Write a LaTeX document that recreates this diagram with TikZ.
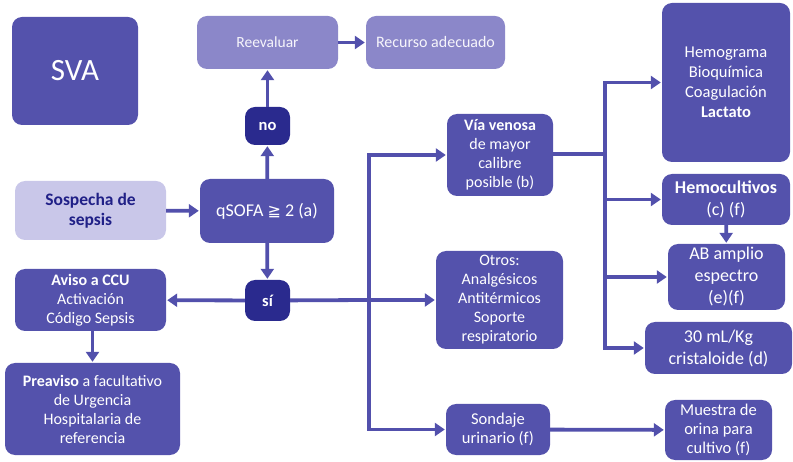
\documentclass[tikz,border=0pt]{standalone}
\usepackage{fontspec}
\setmainfont{Carlito}
\newfontfamily\symfont{DejaVu Sans}
\usetikzlibrary{arrows.meta}
\definecolor{boxmid}{RGB}{84,82,172}
\definecolor{boxdark}{RGB}{42,42,142}
\definecolor{boxlight}{RGB}{139,135,201}
\definecolor{boxpale}{RGB}{201,199,233}
\definecolor{navytext}{RGB}{32,32,135}
\definecolor{linkc}{RGB}{82,80,172}
\tikzset{
  box/.style={rounded corners=10pt, fill=boxmid, text=white, align=center,
    inner sep=0pt, font=\fontsize{16}{19}\selectfont},
  bigtext/.style={font=\fontsize{18}{22}\selectfont},
  darkbox/.style={box, fill=boxdark, font=\fontsize{16.5}{18}\selectfont\bfseries},
  lightbox/.style={box, fill=boxlight, text=white!92!boxlight},
  palebox/.style={box, fill=boxpale, text=navytext, font=\fontsize{17.5}{20}\selectfont\bfseries},
  conn/.style={line width=3.8pt, draw=linkc},
  link/.style={conn, shorten >=1pt, -{Triangle[length=10pt,width=13pt]}},
}
\begin{document}
\begin{tikzpicture}[x=1pt,y=-1pt]
\useasboundingbox (0,0) rectangle (793,462);

% boxes
\node[box, minimum width=126pt, minimum height=108pt, font=\fontsize{31}{33}\selectfont] (sva) at (75,71) {SVA};
\node[lightbox, minimum width=141pt, minimum height=53pt, font=\fontsize{15.5}{18}\selectfont] (reev) at (267.5,42.5) {Reevaluar};
\node[lightbox, minimum width=139pt, minimum height=53pt] (recurso) at (435.5,42.5) {Recurso adecuado};
\node[darkbox, minimum width=45pt, minimum height=38pt] (no) at (267.5,126) {no};
\node[palebox, minimum width=151pt, minimum height=59pt] (sosp) at (90.5,210.5) {Sospecha de\\sepsis};
\node[box, minimum width=134pt, minimum height=64pt, font=\fontsize{18}{20}\selectfont] (qsofa) at (267,211) {qSOFA {\symfont\fontsize{16}{20}\selectfont ≧} 2 (a)};
\node[darkbox, minimum width=45pt, minimum height=41pt] (si) at (267.5,300.5) {sí};
\node[box, minimum width=151pt, minimum height=62pt] (aviso) at (90.5,300) {\textbf{Aviso a CCU}\\Activación\\Código Sepsis};
\node[box, minimum width=175pt, minimum height=92pt] (preaviso) at (92.5,409) {\textbf{Preaviso} a facultativo\\de Urgencia\\Hospitalaria de\\referencia};
\node[box, minimum width=106pt, minimum height=82pt] (via) at (500,155) {\textbf{Vía venosa}\\de mayor\\calibre\\posible (b)};
\node[box, minimum width=128pt, minimum height=159pt, font=\fontsize{16.5}{20}\selectfont] (hemo) at (726,82.5) {Hemograma\\Bioquímica\\Coagulación\\\textbf{Lactato}};
\node[box, bigtext, minimum width=128pt, minimum height=51pt] (hemoc) at (726,199.5) {\textbf{Hemocultivos}\\(c) (f)};
\node[box, bigtext, minimum width=117pt, minimum height=66pt] (ab) at (726.5,277) {AB amplio\\espectro\\(e)(f)};
\node[box, bigtext, minimum width=147pt, minimum height=52pt] (crist) at (718.5,348) {30 mL/Kg\\cristaloide (d)};
\node[box, minimum width=127pt, minimum height=98pt] (otros) at (499.5,300) {Otros:\\Analgésicos\\Antitérmicos\\Soporte\\respiratorio};
\node[box, minimum width=104pt, minimum height=51pt, font=\fontsize{16.5}{19}\selectfont] (sond) at (498,429.5) {Sondaje\\urinario (f)};
\node[box, minimum width=107pt, minimum height=60pt, font=\fontsize{16.5}{19}\selectfont] (muestra) at (718.5,430) {Muestra de\\orina para\\cultivo (f)};

% junction points of the two trunks
\coordinate (j1) at (369,300);
\coordinate (j2) at (605,154);

% connectors
\draw[link] (sosp) -- (qsofa);
\draw[link] (qsofa) -- (no);
\draw[link] (no) -- (reev);
\draw[link] (reev) -- (recurso);
\draw[link] (qsofa) -- (si);
\draw[link] (si) -- (aviso);
\draw[link] (aviso.south -| preaviso.north) -- (preaviso.north);

\draw[conn] (si) -- (j1);
\draw[link] (j1) |- (via);
\draw[link] (j1) -- (otros);
\draw[link] (j1) |- (sond);

\draw[conn] (via.east |- j2) -- (j2);
\draw[link] (j2) |- (hemo);
\draw[link] (j2) |- (hemoc);
\draw[link] (j2) |- (ab);
\draw[link] (j2) |- (crist);
\draw[link] (hemoc) -- (ab);
\draw[link] (sond) -- (muestra);
\end{tikzpicture}
\end{document}
